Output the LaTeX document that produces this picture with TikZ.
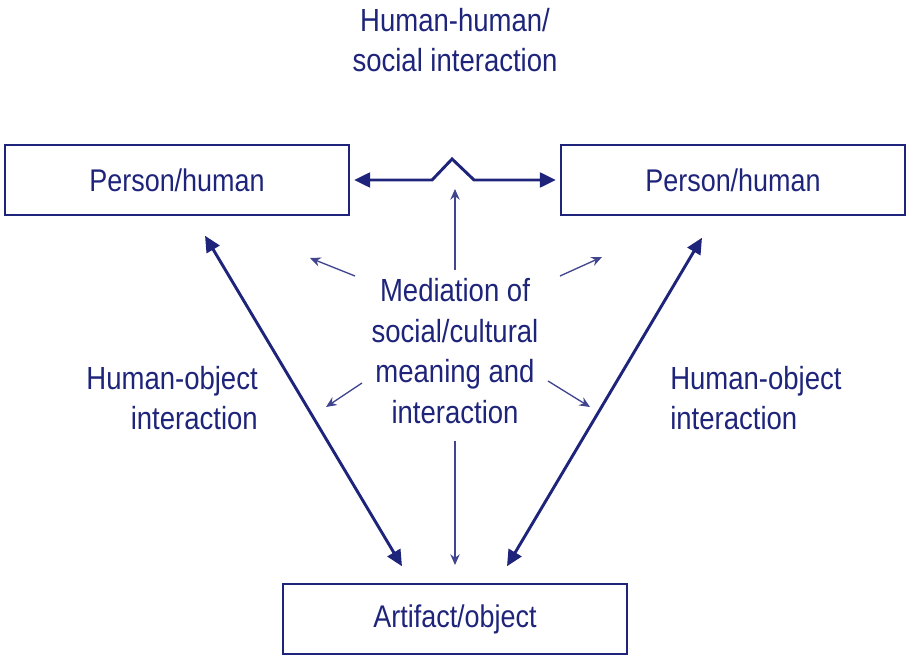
\documentclass[tikz,border=0pt]{standalone}
\usepackage{fontspec}
\setmainfont{Liberation Sans}[FakeStretch=0.86]
\usepackage{tikz}
\usetikzlibrary{arrows.meta,positioning,calc}

\definecolor{navy}{RGB}{30,36,122}

\tikzset{
  box/.style={draw=navy, line width=1.6pt, minimum width=258pt, minimum height=52pt,
    inner sep=0pt, font=\fontsize{23.5}{28}\selectfont, text=navy},
  lbl/.style={align=center, font=\fontsize{24}{30.5}\selectfont, text=navy, inner sep=0pt},
  bigarrow/.style={navy, line width=2.2pt, {Triangle[length=12pt,width=11pt]}-{Triangle[length=12pt,width=11pt]}},
  thinarrow/.style={navy!85, line width=1pt, -{Stealth[length=8pt,width=7pt]}},
}

\begin{document}
\begin{tikzpicture}[x=0.75pt, y=-0.75pt]
    \useasboundingbox (0,0) rectangle (909,659);

    % the three boxes
    \node[box] (left)   at (177,180) {Person/human};
    \node[box] (right)  at (733,180) {Person/human};
    \node[box] (bottom) at (455,619) {Artifact/object};

    % texts
    \node[lbl] (top)  at (455,40)  {Human-human/\\social interaction};
    \node[lbl] (med)  at (455,351) {Mediation of\\social/cultural\\meaning and\\interaction};
    \node[lbl, align=right, anchor=east] (hol) at (258,398) {Human-object\\interaction};
    \node[lbl, align=left, anchor=west]  (hor) at (670,398) {Human-object\\interaction};

    % human-human
    \draw[bigarrow, shorten <=3pt, shorten >=3pt, line join=miter]
        (left.east) -- ++(82,0) -- ++(20,-21) -- ++(22,21) -- (right.west);

    % human-object
    \draw[bigarrow] ([shift={(28,20)}]left.south) -- ([shift={(-53,-17)}]bottom.north);
    \draw[bigarrow] ([shift={(-31,22)}]right.south) -- ([shift={(52,-17)}]bottom.north);

    % mediation
    \draw[thinarrow] ([shift={(0,-81)}]med.center) -- ([shift={(0,-162)}]med.center);
    \draw[thinarrow] ([shift={(0,90)}]med.center) -- ([shift={(0,214)}]med.center);
    \draw[thinarrow] ([shift={(-100,-75)}]med.center) -- ([shift={(-145,-93)}]med.center);
    \draw[thinarrow] ([shift={(105,-75)}]med.center) -- ([shift={(147,-94)}]med.center);
    \draw[thinarrow] ([shift={(-93,32)}]med.center) -- ([shift={(-129,56)}]med.center);
    \draw[thinarrow] ([shift={(93,30)}]med.center) -- ([shift={(135,56)}]med.center);

\end{tikzpicture}
\end{document}
